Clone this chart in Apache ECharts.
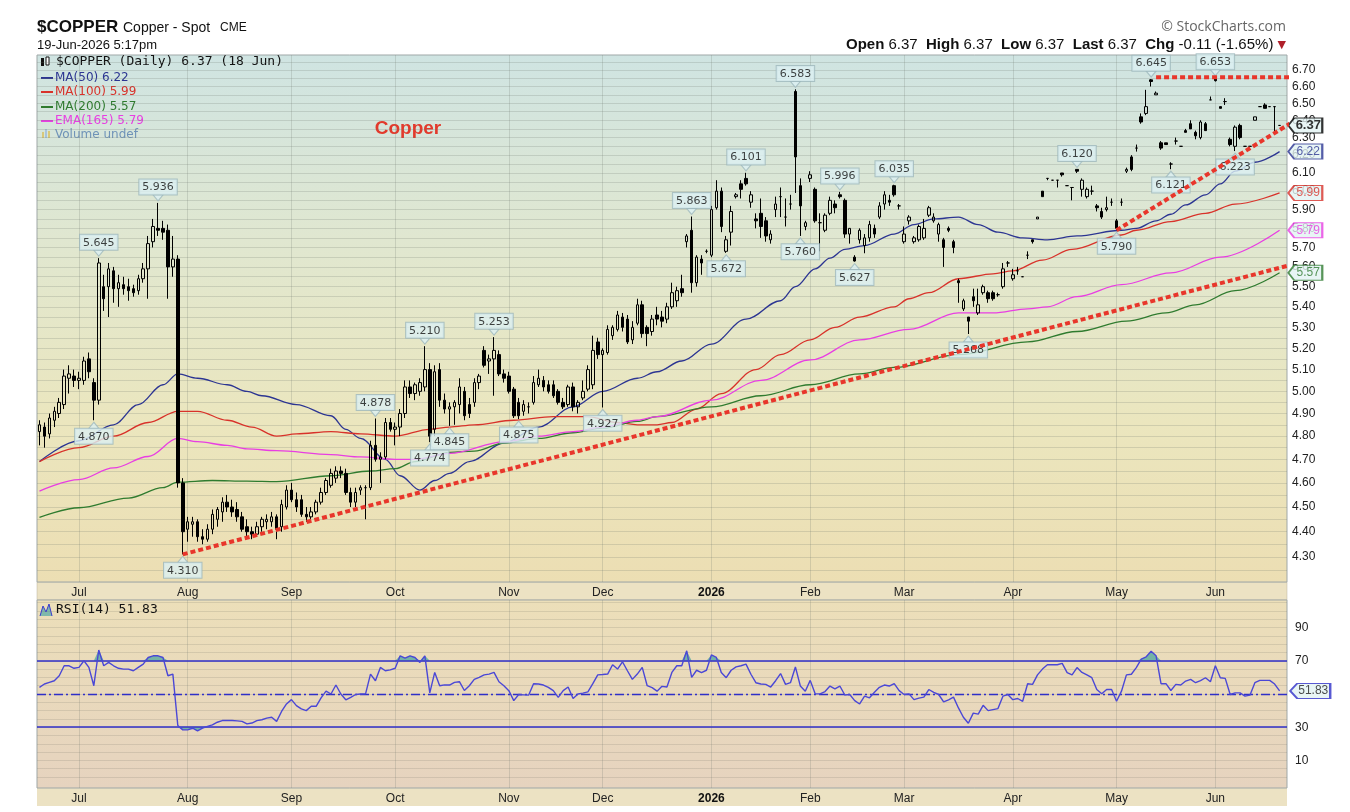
<!DOCTYPE html>
<html><head><meta charset="utf-8">
<script src="https://cdn.jsdelivr.net/npm/echarts@6/dist/echarts.min.js"></script>
<style>html,body{margin:0;padding:0;background:#fff}#c{width:1350px;height:812px}</style>
</head><body><div id="c"></div>
<script>
// ---------- DATA ----------
const startDate = '2025-06-18', endDate = '2026-06-18';
const holidays = ['2025-06-19','2025-07-04','2025-09-01','2025-11-27','2025-12-25','2026-01-01','2026-01-19','2026-02-16','2026-04-03','2026-05-25'];
const monthNames = ['Jan','Feb','Mar','Apr','May','Jun','Jul','Aug','Sep','Oct','Nov','Dec'];
const priceTicks = [4.30,4.40,4.50,4.60,4.70,4.80,4.90,5.00,5.10,5.20,5.30,5.40,5.50,5.60,5.70,5.80,5.90,6.00,6.10,6.20,6.30,6.40,6.50,6.60,6.70];
const rsiTicks = [10,30,70,90];

// daily [open, high, low, close]
const ohlc = [
[4.82,4.87,4.76,4.85],[4.84,4.86,4.75,4.80],[4.81,4.90,4.79,4.88],[4.87,4.93,4.84,4.91],[4.90,4.97,4.88,4.95],
[4.94,5.10,4.92,5.07],[5.06,5.12,4.99,5.08],[5.07,5.10,5.02,5.05],[5.05,5.09,5.01,5.06],[5.05,5.16,5.03,5.14],
[5.15,5.18,5.06,5.09],[5.04,5.06,4.87,4.96],[4.96,5.645,4.94,5.62],[5.50,5.56,5.38,5.44],[5.50,5.62,5.35,5.59],
[5.58,5.60,5.42,5.49],[5.49,5.56,5.40,5.52],[5.51,5.55,5.46,5.49],[5.50,5.54,5.43,5.48],[5.49,5.51,5.45,5.47],
[5.48,5.56,5.46,5.54],[5.54,5.62,5.52,5.59],[5.59,5.76,5.44,5.72],[5.73,5.85,5.70,5.81],[5.80,5.936,5.76,5.79],
[5.80,5.84,5.74,5.78],[5.79,5.82,5.44,5.60],[5.60,5.76,5.55,5.64],[5.64,5.66,4.58,4.60],[4.60,4.62,4.31,4.40],
[4.41,4.46,4.36,4.44],[4.43,4.46,4.38,4.44],[4.44,4.45,4.36,4.38],[4.38,4.41,4.35,4.37],[4.37,4.43,4.36,4.41],
[4.41,4.49,4.39,4.47],[4.45,4.50,4.42,4.49],[4.48,4.54,4.44,4.52],[4.52,4.55,4.48,4.50],[4.50,4.53,4.46,4.48],
[4.49,4.52,4.44,4.46],[4.46,4.48,4.40,4.41],[4.42,4.45,4.38,4.40],[4.40,4.42,4.37,4.39],[4.39,4.44,4.38,4.42],
[4.42,4.46,4.40,4.45],[4.44,4.47,4.41,4.45],[4.44,4.48,4.42,4.46],[4.46,4.47,4.37,4.41],[4.42,4.53,4.40,4.51],
[4.50,4.59,4.49,4.57],[4.57,4.60,4.52,4.53],[4.53,4.56,4.48,4.50],[4.53,4.55,4.46,4.47],[4.47,4.50,4.44,4.46],
[4.46,4.50,4.45,4.48],[4.48,4.53,4.47,4.52],[4.52,4.58,4.51,4.56],[4.56,4.62,4.55,4.61],[4.59,4.66,4.58,4.64],
[4.62,4.67,4.60,4.65],[4.65,4.67,4.62,4.64],[4.64,4.66,4.55,4.56],[4.56,4.58,4.50,4.52],[4.52,4.58,4.50,4.56],
[4.57,4.59,4.55,4.58],[4.58,4.59,4.45,4.58],[4.58,4.78,4.57,4.76],[4.76,4.878,4.69,4.70],[4.70,4.73,4.60,4.71],
[4.71,4.88,4.70,4.86],[4.86,4.88,4.82,4.83],[4.83,4.86,4.76,4.84],[4.84,4.92,4.80,4.90],[4.90,5.05,4.88,5.02],
[5.02,5.05,4.97,4.99],[4.99,5.04,4.96,5.03],[5.00,5.06,4.98,5.04],[5.02,5.21,5.00,5.10],[5.10,5.13,4.774,4.80],
[4.83,5.12,4.80,5.09],[5.10,5.13,4.93,4.96],[4.96,4.99,4.90,4.92],[4.92,4.95,4.845,4.93],[4.93,4.96,4.85,4.95],
[4.94,5.06,4.90,5.02],[5.00,5.02,4.87,4.89],[4.94,4.97,4.88,4.90],[4.95,5.06,4.93,5.04],[5.04,5.08,5.01,5.07],
[5.19,5.21,5.11,5.12],[5.14,5.17,5.08,5.15],[5.15,5.253,4.98,5.19],[5.17,5.19,5.07,5.08],[5.08,5.10,5.04,5.06],
[5.07,5.09,4.99,5.00],[5.01,5.02,4.88,4.89],[4.95,4.97,4.875,4.89],[4.91,4.96,4.89,4.94],[4.93,4.95,4.90,4.93],
[4.95,5.07,4.94,5.04],[5.03,5.10,5.02,5.06],[5.05,5.07,5.00,5.02],[5.03,5.05,4.99,5.00],[5.03,5.05,4.97,4.98],
[5.00,5.01,4.94,4.95],[4.95,4.97,4.92,4.93],[4.94,5.03,4.93,5.02],[5.02,5.04,4.91,4.93],[4.93,4.96,4.90,4.95],
[4.97,5.05,4.96,5.00],[5.01,5.12,5.00,5.10],[5.03,5.26,5.01,5.19],[5.23,5.25,5.15,5.17],[5.17,5.20,4.927,5.19],
[5.18,5.31,5.17,5.29],[5.26,5.31,5.24,5.30],[5.29,5.38,5.28,5.36],[5.35,5.37,5.28,5.30],[5.34,5.36,5.22,5.23],
[5.24,5.33,5.22,5.30],[5.32,5.44,5.31,5.41],[5.41,5.43,5.25,5.27],[5.30,5.31,5.21,5.27],[5.28,5.36,5.26,5.34],
[5.36,5.40,5.31,5.34],[5.35,5.38,5.30,5.33],[5.34,5.42,5.32,5.40],[5.40,5.52,5.39,5.47],[5.43,5.50,5.40,5.48],
[5.49,5.56,5.45,5.47],[5.73,5.77,5.70,5.76],[5.79,5.863,5.47,5.52],[5.52,5.66,5.50,5.65],[5.64,5.66,5.56,5.62],
[5.68,5.69,5.67,5.68],[5.66,5.92,5.65,5.90],[5.91,6.06,5.90,6.00],[6.00,6.02,5.78,5.81],[5.68,5.76,5.672,5.74],
[5.78,5.92,5.71,5.89],[5.97,5.99,5.96,5.98],[6.04,6.06,5.96,6.01],[6.07,6.101,6.03,6.04],[5.94,6.00,5.91,5.98],
[5.85,5.88,5.80,5.84],[5.88,5.96,5.75,5.81],[5.84,5.86,5.73,5.76],[5.74,5.79,5.72,5.77],[5.90,5.97,5.86,5.93],
[5.97,6.02,5.86,5.97],[5.86,5.96,5.81,5.86],[5.93,5.98,5.90,5.93],[6.57,6.583,5.99,6.19],[6.03,6.07,5.76,5.92],
[5.81,5.84,5.79,5.83],[6.07,6.11,6.05,6.09],[6.01,6.02,5.83,5.84],[5.83,5.88,5.68,5.83],[5.79,5.88,5.78,5.87],
[5.88,5.97,5.87,5.95],[5.93,5.95,5.88,5.91],[5.98,5.996,5.96,5.97],[5.95,5.96,5.75,5.77],[5.77,5.80,5.72,5.80],
[5.65,5.66,5.627,5.63],[5.74,5.80,5.72,5.79],[5.71,5.77,5.67,5.75],[5.75,5.84,5.73,5.82],[5.80,5.82,5.75,5.77],
[5.86,5.94,5.85,5.92],[5.93,6.00,5.90,5.98],[5.95,5.98,5.92,5.94],[6.03,6.035,5.97,5.98],[5.92,5.93,5.90,5.92],
[5.73,5.81,5.72,5.77],[5.84,5.87,5.82,5.86],[5.73,5.76,5.72,5.75],[5.74,5.82,5.73,5.81],[5.75,5.85,5.74,5.80],
[5.87,5.92,5.86,5.91],[5.84,5.88,5.83,5.86],[5.77,5.83,5.73,5.82],[5.74,5.75,5.60,5.70],[5.80,5.81,5.78,5.79],
[5.73,5.74,5.67,5.70],[5.53,5.54,5.42,5.52],[5.39,5.44,5.38,5.43],[5.35,5.35,5.268,5.33],[5.45,5.49,5.40,5.43],
[5.37,5.49,5.36,5.41],[5.47,5.51,5.46,5.50],[5.47,5.48,5.42,5.44],[5.47,5.48,5.43,5.44],[5.46,5.47,5.45,5.46],
[5.50,5.62,5.49,5.59],[5.62,5.63,5.60,5.62],[5.54,5.59,5.53,5.56],[5.58,5.60,5.56,5.58],[5.55,5.55,5.55,5.55],
[5.66,5.68,5.64,5.66],[5.74,5.74,5.72,5.73],[5.85,5.86,5.85,5.86],[6.00,6.00,5.97,5.97],[6.07,6.07,6.06,6.07],
[6.06,6.06,6.06,6.06],[6.06,6.06,6.02,6.06],[6.10,6.10,6.08,6.09],[6.03,6.03,6.03,6.03],[6.02,6.02,5.95,6.02],
[6.12,6.12,6.10,6.11],[6.01,6.07,5.97,6.06],[5.97,6.02,5.96,6.01],[6.00,6.03,5.98,6.00],[5.92,5.93,5.89,5.91],
[5.89,5.91,5.85,5.86],[5.90,5.97,5.89,5.91],[5.94,5.96,5.92,5.94],[5.84,5.85,5.79,5.80],[5.94,5.96,5.92,5.94],
[6.11,6.13,6.10,6.12],[6.19,6.20,6.11,6.12],[6.24,6.26,6.22,6.24],[6.42,6.44,6.38,6.39],[6.44,6.58,6.43,6.48],
[6.64,6.645,6.60,6.63],[6.55,6.57,6.55,6.56],[6.27,6.28,6.23,6.24],[6.27,6.27,6.26,6.26],[6.15,6.16,6.121,6.15],
[6.28,6.30,6.26,6.28],[6.25,6.25,6.25,6.25],[6.34,6.35,6.33,6.33],[6.38,6.40,6.35,6.35],[6.33,6.34,6.29,6.31],
[6.30,6.40,6.29,6.39],[6.38,6.39,6.34,6.34],[6.52,6.54,6.52,6.52],[6.645,6.653,6.63,6.635],[6.48,6.48,6.47,6.47],
[6.51,6.53,6.49,6.51],[6.29,6.30,6.25,6.26],[6.25,6.37,6.223,6.36],[6.37,6.38,6.29,6.30],[6.25,6.25,6.25,6.25],
[6.25,6.25,6.25,6.25],[6.40,6.42,6.40,6.42],[6.48,6.48,6.48,6.48],[6.49,6.50,6.47,6.47],[6.48,6.48,6.48,6.48],
[6.48,6.48,6.33,6.48],[6.37,6.37,6.37,6.37]
];

// moving averages: [day index, value]
const ma50 = [[0,4.69],[8,4.78],[15,4.85],[20,4.94],[25,5.03],[28,5.08],[32,5.06],[38,5.03],[42,5.00],[45,4.98],[52,4.94],[59,4.89],[62,4.83],[65,4.79],[70,4.70],[73,4.63],[77,4.57],[80,4.61],[83,4.64],[87,4.69],[94,4.77],[101,4.84],[108,4.93],[114,5.00],[121,5.06],[125,5.09],[130,5.14],[136,5.22],[143,5.34],[150,5.43],[153,5.50],[157,5.59],[160,5.645],[163,5.69],[167,5.71],[173,5.77],[177,5.82],[181,5.85],[186,5.86],[190,5.82],[194,5.78],[199,5.75],[204,5.74],[210,5.76],[219,5.79],[222,5.80],[226,5.84],[229,5.875],[232,5.925],[236,5.98],[239,6.04],[242,6.11],[246,6.16],[251,6.22]];
const ma100 = [[0,4.69],[8,4.75],[15,4.80],[22,4.86],[28,4.91],[32,4.91],[38,4.87],[43,4.84],[48,4.80],[52,4.81],[59,4.82],[65,4.81],[72,4.80],[79,4.83],[83,4.84],[88,4.85],[96,4.87],[104,4.886],[111,4.886],[117,4.86],[121,4.85],[125,4.85],[128,4.86],[133,4.92],[138,4.99],[145,5.10],[150,5.17],[156,5.24],[161,5.30],[166,5.35],[173,5.40],[176,5.44],[180,5.47],[186,5.54],[193,5.565],[197,5.58],[203,5.635],[209,5.69],[219,5.765],[222,5.79],[229,5.836],[236,5.88],[242,5.93],[251,5.99]];
const ma200 = [[0,4.458],[8,4.497],[18,4.537],[25,4.58],[28,4.603],[35,4.61],[42,4.607],[48,4.605],[59,4.63],[67,4.65],[72,4.66],[76,4.69],[83,4.73],[88,4.735],[94,4.77],[101,4.79],[108,4.815],[114,4.835],[121,4.865],[125,4.886],[136,4.93],[146,4.98],[156,5.03],[166,5.08],[173,5.11],[186,5.17],[200,5.23],[210,5.28],[220,5.33],[228,5.37],[234,5.41],[242,5.48],[251,5.57]];
const ema165 = [[0,4.566],[8,4.614],[15,4.663],[22,4.712],[28,4.79],[32,4.776],[38,4.76],[42,4.745],[48,4.737],[59,4.72],[65,4.71],[72,4.70],[76,4.70],[83,4.725],[94,4.775],[101,4.80],[108,4.82],[114,4.84],[121,4.87],[125,4.886],[136,4.96],[146,5.05],[156,5.145],[166,5.24],[176,5.29],[186,5.37],[193,5.37],[200,5.39],[204,5.40],[210,5.45],[219,5.51],[229,5.57],[239,5.65],[251,5.79]];

const rsi = [
54,56,57,58,61,67,67,65.5,66,70, 66,55,76.5,67,69,67,65.5,65,65,64,
66,68,72,73,73,72,61,62,31,28.4, 28.4,29.4,27.8,29.4,30.5,31.4,33,34,34,34,
33.8,33.5,32,32.5,34,34.5,35.5,36,33.5,39.5, 44,46.6,43,41,40,42.6,42.6,47.7,51.7,50,
55.4,50,46.5,48,49.7,50,50.1,62,58,66, 64,64.5,65.5,73,71.6,73,72,69,73,50.7,
63,55,55.5,55.4,57,57.4,52.1,55,58.8,60, 61.5,62,63,57.4,55,52,46,49.7,49.5,49.3,
56.2,56,55.4,54,52,48,52,54.2,47.3,50, 50.5,51.3,56.2,61.5,61.7,62,67.6,65,69.4,64,
58.8,62,66,55,53.8,51.7,54.6,54.2,63,67, 67,76,60,64.3,62.9,64.3,73.5,72,62.9,59.8,
64.3,66.3,67,68,61.9,56.8,56,55.8,54.2,58, 62.3,55.8,56.8,66.3,54.8,51.7,58.2,50.1,50.1,51.5,
54.8,53.1,54.8,49.4,49.7,46,44,48.7,47.7,51, 54,55.4,54.8,56.2,52,49.7,50.1,46.6,47.5,48.1,
52.7,51,49.7,45.2,46.5,48.1,41.6,36,32.4,38.5, 37.9,43.2,40,40.6,41.2,48.7,49.7,46.6,47.3,45.6,
56.2,55.8,61.5,65,67.6,67.6,67.6,68.4,62.9,61.5, 65.9,63,61.5,59.8,52.7,50.1,52.7,52.7,45.6,51.7,
61.5,61.9,65.9,71,72.4,75.7,73,56.2,56.2,52.1, 55.8,55.4,57.8,58.8,56.8,58,59.8,57.4,67,59.8,
59.4,49.7,50.7,50.7,48.7,49.3,56.8,58.2,58.2,58.2, 56,51.83
];

// annotated highs (label above) and lows (label below): [day index, price]
const peakLabels = [[12,5.645],[24,5.936],[68,4.878],[78,5.210],[92,5.253],[132,5.863],[143,6.101],[153,6.583],[162,5.996],[173,6.035],[210,6.120],[225,6.645],[238,6.653]];
const troughLabels = [[11,4.870],[29,4.310],[79,4.774],[83,4.845],[97,4.875],[114,4.927],[139,5.672],[154,5.760],[165,5.627],[188,5.268],[218,5.790],[229,6.121],[242,6.223]];

// hand-drawn trend lines: [day index, price]
const trendSupport = [[29,4.31],[265.3,5.69]];
const trendRising = [[218,5.79],[259.8,6.50]];
const trendTop = [[226,6.655],[254.9,6.655]];

// ---------- BUILD ----------
const L = Math.log;
function tradingDays(s, e, hol) {
  const out = []; const d = new Date(s + 'T00:00:00Z'); const end = new Date(e + 'T00:00:00Z');
  while (d <= end) {
    const wd = d.getUTCDay(); const k = d.toISOString().slice(0, 10);
    if (wd !== 0 && wd !== 6 && hol.indexOf(k) < 0) out.push(k);
    d.setUTCDate(d.getUTCDate() + 1);
  }
  return out;
}
const dates = tradingDays(startDate, endDate, holidays);
const monthStarts = [];
for (let i = 1; i < dates.length; i++) if (dates[i].slice(5, 7) !== dates[i - 1].slice(5, 7)) monthStarts.push(i);
function monthLabel(v) {
  const i = Math.round(v); const m = +dates[i].slice(5, 7);
  return m === 1 ? '{y|' + dates[i].slice(0, 4) + '}' : monthNames[m - 1];
}
const gridVals = []; for (let k = 0; k <= 50; k++) { const v = +(4.25 + k * 0.05).toFixed(2); if (v <= 6.75) gridVals.push(v); }
const rsiGrid = []; for (let k = 0; k <= 105; k += 5) rsiGrid.push(k);

const N = ohlc.length;
const xMin = -0.5, xMax = N + 0.5;
const lastClose = ohlc[N - 1][3];
const tagX = 256.2, rsiTagX = 257.2;

const COLORS = { ma50: '#2c3592', ma100: '#d8322a', ma200: '#2f7b2f', ema: '#e83ee2', trend: '#e8362b', rsi: '#4a47d6', rsiRef: '#2f2fc8' };
const FONT = 'Liberation Sans';

const xAxisBase = (gi, showLabel) => ({
  type: 'value', gridIndex: gi, min: xMin, max: xMax,
  axisLine: { show: false }, axisTick: { show: false, customValues: monthStarts },
  splitLine: { show: true, lineStyle: { color: 'rgba(110,120,110,0.22)', width: 1 } },
  axisLabel: { show: showLabel, customValues: monthStarts, formatter: monthLabel, color: '#222', fontSize: 12, fontFamily: FONT, margin: 5,
    rich: { y: { fontWeight: 'bold', fontSize: 12, fontFamily: FONT, color: '#111' } } }
});

const labelBox = { backgroundColor: '#dcf0f2', borderColor: '#9db8bd', borderWidth: 1, padding: [2, 3, 1, 3], fontSize: 11, fontFamily: 'DejaVu Sans', color: '#111', lineHeight: 12 };
const tagPath = 'path://M0,8L7,0L40,0L40,16L7,16Z';

const lineSeries = (name, arr, color) => ({
  name, type: 'line', xAxisIndex: 0, yAxisIndex: 0, data: arr.map(d => [d[0], L(d[1])]),
  showSymbol: false, smooth: 0.35, smoothMonotone: 'x', lineStyle: { color, width: 1.3 }, z: 3, silent: true
});
const trendSeries = (arr) => ({
  type: 'line', xAxisIndex: 0, yAxisIndex: 0, clip: false, data: arr.map(d => [d[0], L(d[1])]),
  showSymbol: false, lineStyle: { color: COLORS.trend, width: 4, type: [5, 3] }, z: 10, silent: true
});

const option = {
  animation: false,
  backgroundColor: '#ffffff',
  grid: [
    { left: 37, top: 55, width: 1250, height: 527, show: true, borderColor: '#9fa7a7', borderWidth: 1,
      backgroundColor: { type: 'linear', x: 0, y: 0, x2: 0, y2: 1, colorStops: [
        { offset: 0, color: '#cfe4e2' }, { offset: 0.35, color: '#e0e7d0' }, { offset: 0.7, color: '#ebe6be' }, { offset: 1, color: '#ecdeb3' }] } },
    { left: 37, top: 600, width: 1250, height: 188, show: true, borderColor: '#9fa7a7', borderWidth: 1,
      backgroundColor: { type: 'linear', x: 0, y: 0, x2: 0, y2: 1, colorStops: [
        { offset: 0, color: '#ecdfb9' }, { offset: 1, color: '#e6d3bf' }] } }
  ],
  xAxis: [xAxisBase(0, true), xAxisBase(1, true)],
  yAxis: [
    { type: 'value', gridIndex: 0, position: 'right', min: L(4.203), max: L(6.792),
      axisLine: { show: false }, axisTick: { show: false, customValues: gridVals.map(L) },
      splitLine: { show: true, lineStyle: { color: 'rgba(110,120,110,0.22)', width: 1 } },
      axisLabel: { customValues: priceTicks.map(L), formatter: v => Math.exp(v).toFixed(2), color: '#222', fontSize: 12, fontFamily: FONT, margin: 5 } },
    { type: 'value', gridIndex: 1, position: 'right', min: -6.6, max: 106.6,
      axisLine: { show: false }, axisTick: { show: false, customValues: rsiGrid },
      splitLine: { show: true, lineStyle: { color: 'rgba(110,110,100,0.18)', width: 1 } },
      axisLabel: { customValues: rsiTicks, color: '#222', fontSize: 12, fontFamily: FONT, margin: 8 } }
  ],
  graphic: [
    { type: 'rect', shape: { x: 37, y: 582, width: 1250, height: 18 }, style: { fill: '#ece2c3', stroke: '#b9b39c', lineWidth: 0.5 }, z: -5, silent: true },
    { type: 'rect', shape: { x: 37, y: 788, width: 1250, height: 18 }, style: { fill: '#ece2c3' }, z: -5, silent: true },
    { type: 'text', x: 37, y: 27, style: { text: '$COPPER', font: 'bold 17px "Liberation Sans"', fill: '#111', verticalAlign: 'middle' } },
    { type: 'text', x: 123, y: 28, style: { text: 'Copper - Spot', font: '14px "Liberation Sans"', fill: '#111', verticalAlign: 'middle' } },
    { type: 'text', x: 220, y: 28, style: { text: 'CME', font: '12px "Liberation Sans"', fill: '#111', verticalAlign: 'middle' } },
    { type: 'text', x: 37, y: 45, style: { text: '19-Jun-2026 5:17pm', font: '13px "Liberation Sans"', fill: '#111', verticalAlign: 'middle' } },
    { type: 'text', x: 1286, y: 27, style: { text: '© StockCharts.com', font: '14px "Open Sans"', fill: '#666', align: 'right', verticalAlign: 'middle' } },
    { type: 'text', x: 1286, y: 45, style: { text: '{b|Open} 6.37  {b|High} 6.37  {b|Low} 6.37  {b|Last} 6.37  {b|Chg} -0.11 (-1.65%) {r|▼}',
      font: '15px "Liberation Sans"', fill: '#111', align: 'right', verticalAlign: 'middle',
      rich: { b: { font: 'bold 15px "Liberation Sans"', fill: '#111' }, r: { font: '11px "DejaVu Sans"', fill: '#b0202a' } } } },
    // panel legend
    { type: 'rect', shape: { x: 41, y: 58, width: 3, height: 8 }, style: { fill: '#111' } },
    { type: 'rect', shape: { x: 46, y: 57, width: 3, height: 8 }, style: { fill: '#fff', stroke: '#111', lineWidth: 1 } },
    { type: 'text', x: 56, y: 62, style: { text: '$COPPER (Daily) 6.37 (18 Jun)', font: '13px "DejaVu Sans Mono"', fill: '#111', verticalAlign: 'middle' } },
    { type: 'rect', shape: { x: 41, y: 77, width: 12, height: 2 }, style: { fill: COLORS.ma50 } },
    { type: 'text', x: 55, y: 78, style: { text: 'MA(50) 6.22', font: '12px "DejaVu Sans"', fill: COLORS.ma50, verticalAlign: 'middle' } },
    { type: 'rect', shape: { x: 41, y: 91, width: 12, height: 2 }, style: { fill: COLORS.ma100 } },
    { type: 'text', x: 55, y: 92, style: { text: 'MA(100) 5.99', font: '12px "DejaVu Sans"', fill: COLORS.ma100, verticalAlign: 'middle' } },
    { type: 'rect', shape: { x: 41, y: 106, width: 12, height: 2 }, style: { fill: COLORS.ma200 } },
    { type: 'text', x: 55, y: 107, style: { text: 'MA(200) 5.57', font: '12px "DejaVu Sans"', fill: COLORS.ma200, verticalAlign: 'middle' } },
    { type: 'rect', shape: { x: 41, y: 120, width: 12, height: 2 }, style: { fill: COLORS.ema } },
    { type: 'text', x: 55, y: 121, style: { text: 'EMA(165) 5.79', font: '12px "DejaVu Sans"', fill: COLORS.ema, verticalAlign: 'middle' } },
    { type: 'rect', shape: { x: 42, y: 132, width: 2, height: 6 }, style: { fill: '#d8c87a' } },
    { type: 'rect', shape: { x: 45, y: 129, width: 2, height: 9 }, style: { fill: '#a9c4dc' } },
    { type: 'rect', shape: { x: 48, y: 131, width: 2, height: 7 }, style: { fill: '#d8c87a' } },
    { type: 'text', x: 55, y: 135, style: { text: 'Volume undef', font: '12px "DejaVu Sans"', fill: '#6f93b8', verticalAlign: 'middle' } },
    { type: 'text', x: 408, y: 129, style: { text: 'Copper', font: 'bold 19px "Liberation Sans"', fill: '#e23a2c', align: 'center', verticalAlign: 'middle' } },
    // RSI legend
    { type: 'polyline', shape: { points: [[40, 616], [43, 606], [46, 612], [49, 604], [52, 616]] }, style: { stroke: '#3a3ad0', fill: '#7fb9ab', lineWidth: 1 } },
    { type: 'text', x: 56, y: 610, style: { text: 'RSI(14) 51.83', font: '13px "DejaVu Sans Mono"', fill: '#111', verticalAlign: 'middle' } }
  ],
  series: [
    { name: 'COPPER', type: 'candlestick', xAxisIndex: 0, yAxisIndex: 0, z: 4, silent: true,
      data: ohlc.map((d, i) => [i, L(d[0]), L(d[3]), L(d[2]), L(d[1])]),
      encode: { x: 0, y: [1, 2, 3, 4] },
      barWidth: 3,
      itemStyle: { color: 'rgba(255,255,255,0)', color0: '#000', borderColor: '#000', borderColor0: '#000', borderWidth: 1 } },
    lineSeries('MA50', ma50, COLORS.ma50),
    lineSeries('MA100', ma100, COLORS.ma100),
    lineSeries('MA200', ma200, COLORS.ma200),
    lineSeries('EMA165', ema165, COLORS.ema),
    trendSeries(trendSupport), trendSeries(trendRising), trendSeries(trendTop),
    { type: 'scatter', xAxisIndex: 0, yAxisIndex: 0, z: 8, silent: true,
      data: peakLabels.map(d => ({ value: [d[0], L(d[1])], txt: d[1].toFixed(3) })),
      symbol: 'triangle', symbolRotate: 180, symbolSize: [10, 6], symbolOffset: [0, -5],
      itemStyle: { color: '#dcf0f2', borderColor: '#9db8bd', borderWidth: 1 },
      label: Object.assign({ show: true, position: 'top', distance: 0, formatter: p => p.data.txt }, labelBox) },
    { type: 'scatter', xAxisIndex: 0, yAxisIndex: 0, z: 8, silent: true,
      data: troughLabels.map(d => ({ value: [d[0], L(d[1])], txt: d[1].toFixed(3) })),
      symbol: 'triangle', symbolSize: [10, 6], symbolOffset: [0, 5],
      itemStyle: { color: '#dcf0f2', borderColor: '#9db8bd', borderWidth: 1 },
      label: Object.assign({ show: true, position: 'bottom', distance: 0, formatter: p => p.data.txt }, labelBox) },
    { type: 'scatter', xAxisIndex: 0, yAxisIndex: 0, z: 9, clip: false, silent: true,
      symbol: tagPath, symbolSize: [34, 15], symbolKeepAspect: false,
      itemStyle: { color: '#e2f3f3', borderWidth: 1.5 },
      label: { show: true, position: 'inside', offset: [3, 0], fontSize: 12, fontFamily: FONT },
      data: [
        { value: [tagX, L(ema165[ema165.length - 1][1])], label: { formatter: ema165[ema165.length - 1][1].toFixed(2), color: COLORS.ema }, itemStyle: { borderColor: COLORS.ema } },
        { value: [tagX, L(ma200[ma200.length - 1][1])], label: { formatter: ma200[ma200.length - 1][1].toFixed(2), color: COLORS.ma200 }, itemStyle: { borderColor: COLORS.ma200 } },
        { value: [tagX, L(ma100[ma100.length - 1][1])], label: { formatter: ma100[ma100.length - 1][1].toFixed(2), color: COLORS.ma100 }, itemStyle: { borderColor: COLORS.ma100 } },
        { value: [tagX, L(ma50[ma50.length - 1][1])], label: { formatter: ma50[ma50.length - 1][1].toFixed(2), color: COLORS.ma50 }, itemStyle: { borderColor: COLORS.ma50 } },
        { value: [tagX, L(lastClose)], label: { formatter: lastClose.toFixed(2), color: '#000', fontWeight: 'bold', fontSize: 13 }, itemStyle: { borderColor: '#000' } }
      ] },
    // RSI
    { type: 'line', xAxisIndex: 1, yAxisIndex: 1, silent: true, showSymbol: false, z: 3,
      data: rsi.map((v, i) => [i, Math.max(v, 70)]), lineStyle: { width: 0, opacity: 0 },
      areaStyle: { origin: 70, color: '#74b3a6', opacity: 1 } },
    { type: 'line', xAxisIndex: 1, yAxisIndex: 1, silent: true, showSymbol: false, z: 3,
      data: rsi.map((v, i) => [i, Math.min(v, 30)]), lineStyle: { width: 0, opacity: 0 },
      areaStyle: { origin: 30, color: '#74b3a6', opacity: 1 } },
    { name: 'RSI', type: 'line', xAxisIndex: 1, yAxisIndex: 1, silent: true, showSymbol: false, z: 5,
      data: rsi.map((v, i) => [i, v]), lineStyle: { color: COLORS.rsi, width: 1.4 },
      markLine: { silent: true, symbol: 'none', label: { show: false },
        lineStyle: { color: COLORS.rsiRef, width: 1.5, type: 'solid' },
        data: [{ yAxis: 70 }, { yAxis: 30 }, { yAxis: 50, lineStyle: { type: [9, 3, 2, 3], width: 1.3 } }] } },
    { type: 'scatter', xAxisIndex: 1, yAxisIndex: 1, z: 9, clip: false, silent: true,
      symbol: tagPath, symbolSize: [40, 15], symbolKeepAspect: false,
      itemStyle: { color: '#e2f3f3', borderColor: COLORS.rsiRef, borderWidth: 1.5 },
      label: { show: true, position: 'inside', offset: [3, 0], fontSize: 12, fontFamily: FONT, color: '#222', formatter: rsi[rsi.length - 1].toFixed(2) },
      data: [[rsiTagX, rsi[rsi.length - 1]]] }
  ]
};
const chart = echarts.init(document.getElementById('c'), null, { renderer: 'canvas', width: 1350, height: 812 });
chart.setOption(option);
</script>
</body></html>
